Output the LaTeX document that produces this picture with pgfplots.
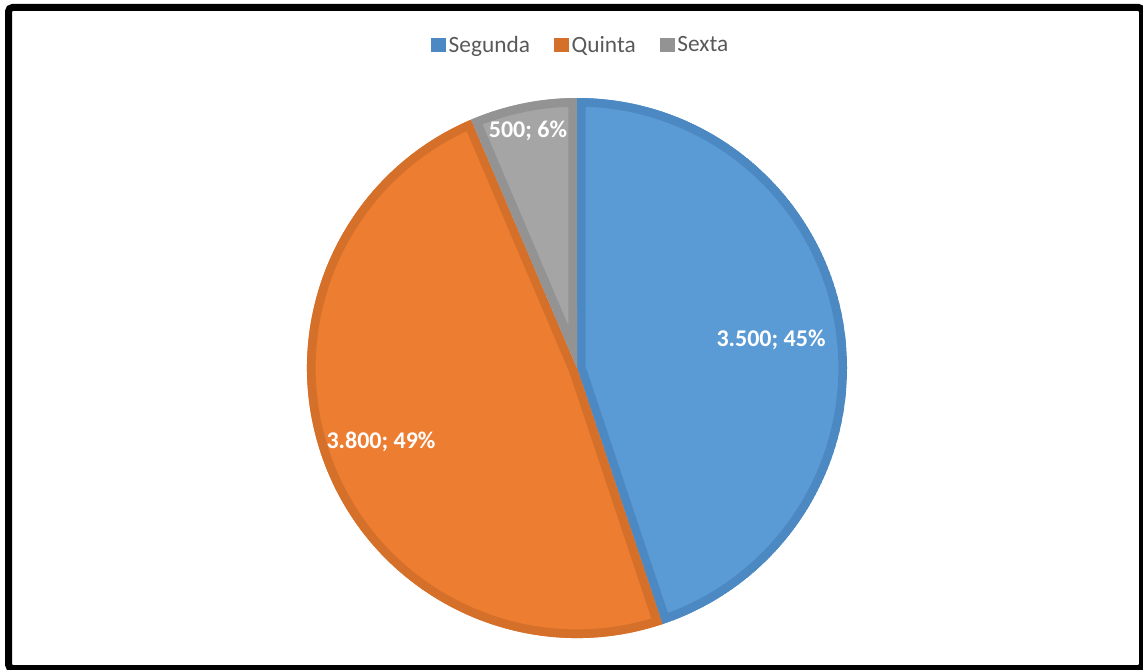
\documentclass[border=0pt]{standalone}
\usepackage{pgfplots}
\usepackage{pgfplotstable}
\pgfplotsset{compat=1.18}
\usepackage{fontspec}
\setmainfont{Carlito}

\definecolor{cBlue}{HTML}{5B9BD5}
\definecolor{cBlueD}{HTML}{4C89C3}
\definecolor{cOrange}{HTML}{ED7D31}
\definecolor{cOrangeD}{HTML}{D5702B}
\definecolor{cGray}{HTML}{A5A5A5}
\definecolor{cGrayD}{HTML}{939393}
\definecolor{cText}{HTML}{595959}

\pgfplotstableread{
name value
Segunda 3500
Quinta 3800
Sexta 500
}\piedata

\pgfplotstablegetelem{0}{value}\of\piedata \pgfmathsetmacro\va{\pgfplotsretval/100}
\pgfplotstablegetelem{1}{value}\of\piedata \pgfmathsetmacro\vb{\pgfplotsretval/100}
\pgfplotstablegetelem{2}{value}\of\piedata \pgfmathsetmacro\vc{\pgfplotsretval/100}
\pgfmathsetmacro\tot{\va+\vb+\vc}
\pgfmathsetmacro\aA{90}
\pgfmathsetmacro\aB{90-360*(\va/\tot)}
\pgfmathsetmacro\aC{\aB-360*(\vb/\tot)}
\pgfmathsetmacro\aD{\aC-360*(\vc/\tot)}

\newcommand\slice[4]{%
  \begin{scope}
    \clip (axis cs:577,301) -- ++(#1:202.5pt) arc[start angle=#1,end angle=#2,radius=202.5pt] -- cycle;
    \fill[#3] (axis cs:577,301) -- ++(#1:202.5pt) arc[start angle=#1,end angle=#2,radius=202.5pt] -- cycle;
    \draw[#4,line width=13pt,line join=miter] (axis cs:577,301) -- ++(#1:202.5pt) arc[start angle=#1,end angle=#2,radius=202.5pt] -- cycle;
  \end{scope}}

\begin{document}
\begin{tikzpicture}
\begin{axis}[
  scale only axis, width=857.25pt, height=501.75pt,
  xmin=0, xmax=1143, ymin=0, ymax=669,
  hide axis,
  clip=false,
  legend style={at={(axis cs:581,624)}, anchor=center, draw=none, fill=none,
    font=\fontsize{17.5}{20}\selectfont\color{cText}, legend columns=-1,
    /tikz/every even column/.append style={column sep=16pt},
    inner sep=0pt},
  legend image code/.code={\path[#1,draw=none] (0pt,-5.6pt) rectangle (11.25pt,5.6pt);},
]
\addlegendimage{fill=cBlueD}\addlegendentry{Segunda}
\addlegendimage{fill=cOrangeD}\addlegendentry{Quinta}
\addlegendimage{fill=cGrayD}\addlegendentry{Sexta}

\slice{\aA}{\aB}{cBlue}{cBlueD}
\slice{\aB}{\aC}{cOrange}{cOrangeD}
\slice{\aC}{\aD}{cGray}{cGrayD}

\node[font=\fontsize{18}{20}\selectfont\bfseries, text=white] at (axis cs:771,329) {3.500; 45\%};
\node[font=\fontsize{18}{20}\selectfont\bfseries, text=white] at (axis cs:381,227) {3.800; 49\%};
\node[font=\fontsize{18}{20}\selectfont\bfseries, text=white] at (axis cs:528,538) {500; 6\%};

\draw[black, line width=5.25pt, rounded corners=3pt] (axis cs:8.5,0.5) rectangle (axis cs:1142.5,661.5);
\end{axis}
\pgfresetboundingbox
\path[use as bounding box] (0,0) rectangle (857.25pt,501.75pt);
\end{tikzpicture}
\end{document}
